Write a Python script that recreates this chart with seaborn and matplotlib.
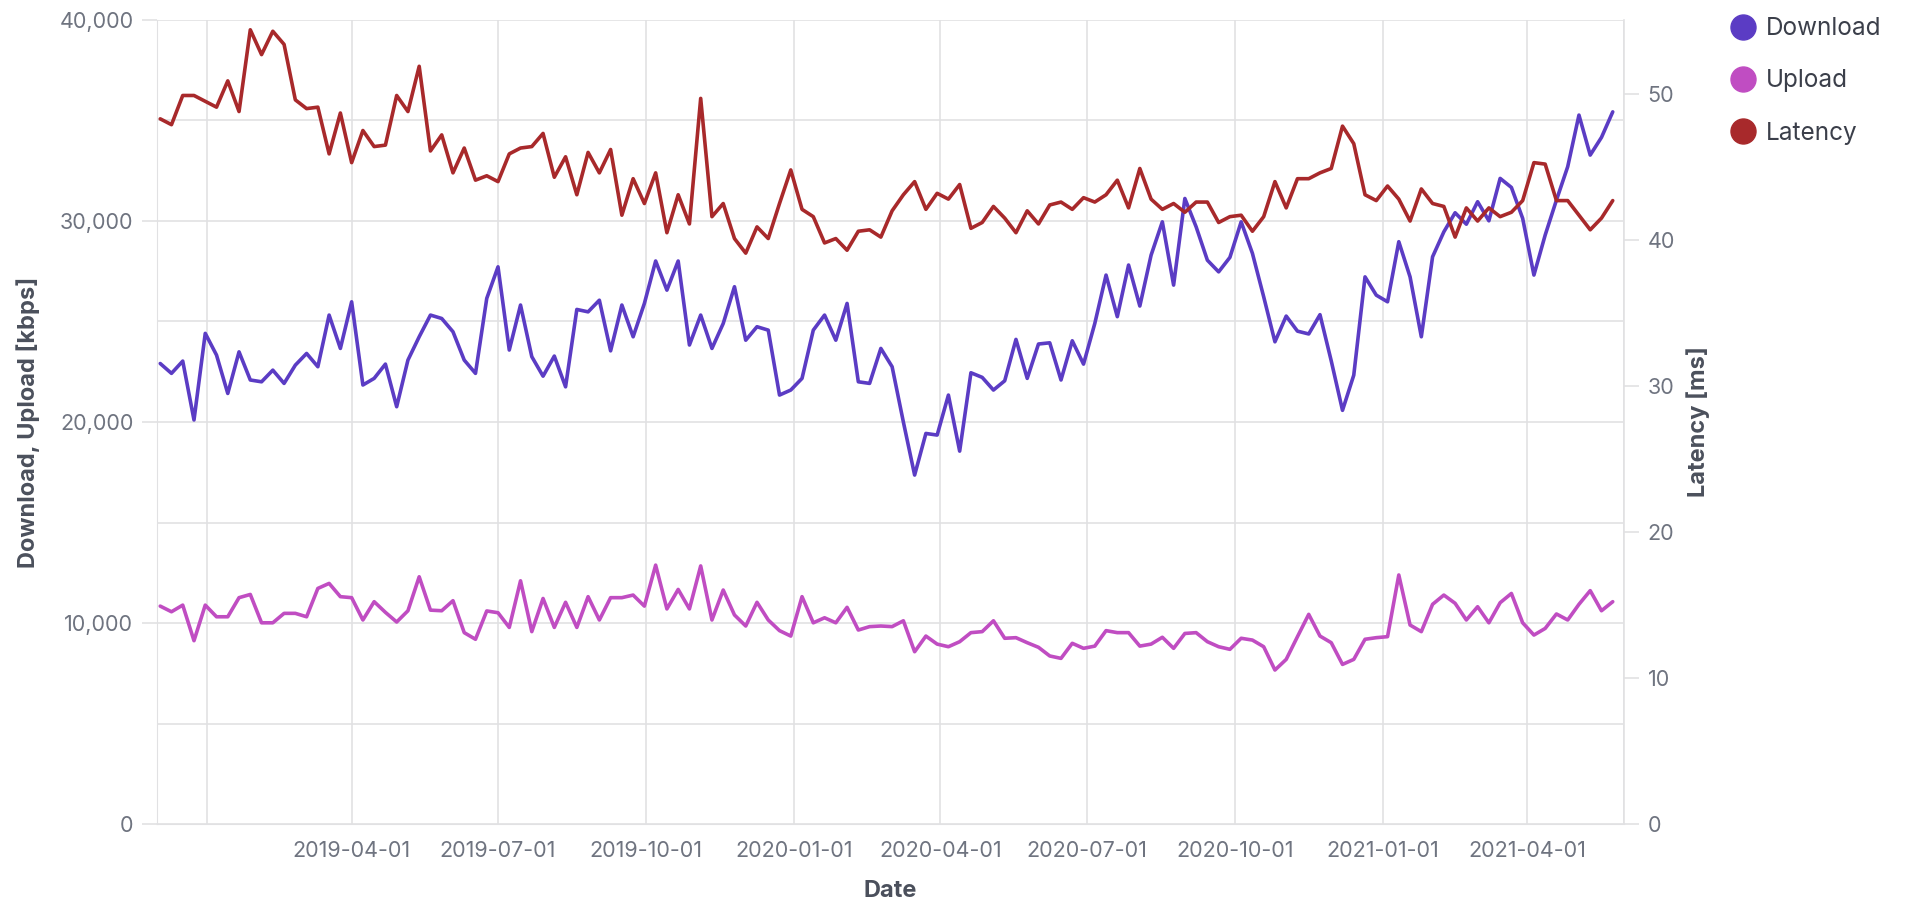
import pandas as pd
import matplotlib
matplotlib.use("Agg")
import matplotlib.pyplot as plt
import matplotlib.dates as mdates
from matplotlib.ticker import FuncFormatter, MultipleLocator
from matplotlib.lines import Line2D
import seaborn as sns

# weekly measurements, starting Monday 2018-12-03
start_date = "2018-12-03"
n_weeks = 130

download = [
    22910, 22420, 23030, 20100, 24410, 23330, 21420, 23490, 22090, 22000,
    22580, 21920, 22830, 23410, 22750, 25320, 23660, 25980, 21840, 22170,
    22880, 20760, 23080, 24240, 25320, 25150, 24490, 23080, 22420, 26150,
    27720, 23580, 25820, 23250, 22280, 23280, 21750, 25600, 25480, 26060,
    23540, 25820, 24240, 25900, 28010, 26560, 28010, 23830, 25320, 23660,
    24900, 26730, 24070, 24740, 24570, 21340, 21590, 22170, 24570, 25320,
    24070, 25900, 22000, 21920, 23660, 22750, 20000, 17360, 19430, 19350,
    21340, 18550, 22450, 22220, 21590, 22050, 24110, 22170, 23880, 23940,
    22090, 24040, 22880, 24900, 27310, 25240, 27810, 25770, 28300, 29960,
    26810, 31120, 29710, 28050, 27470, 28190, 29960, 28390, 26230, 23990,
    25270, 24520, 24380, 25340, 23040, 20580, 22330, 27220, 26310, 25980,
    28970, 27220, 24240, 28220, 29460, 30410, 29840, 30960, 30010, 32120,
    31670, 30130, 27310, 29300, 31040, 32700, 35270, 33280, 34160, 35430,
]

upload = [
    10840, 10560, 10890, 9120, 10890, 10310, 10310, 11260, 11420, 10010,
    10010, 10480, 10480, 10310, 11720, 11970, 11310, 11260, 10150, 11060,
    10530, 10050, 10610, 12300, 10640, 10610, 11110, 9520, 9190, 10600,
    10510, 9780, 12100, 9570, 11220, 9780, 11030, 9780, 11310, 10150,
    11260, 11260, 11390, 10840, 12880, 10700, 11670, 10700, 12840, 10150,
    11640, 10400, 9850, 11030, 10150, 9620, 9350, 11310, 10010, 10260,
    10010, 10780, 9650, 9820, 9850, 9820, 10110, 8570, 9350, 8950,
    8820, 9070, 9520, 9570, 10110, 9240, 9270, 9020, 8790, 8360,
    8240, 8990, 8740, 8850, 9620, 9520, 9520, 8850, 8950, 9290,
    8740, 9480, 9520, 9070, 8820, 8690, 9240, 9150, 8820, 7660,
    8190, 9320, 10430, 9350, 9020, 7940, 8190, 9190, 9270, 9320,
    12390, 9900, 9570, 10930, 11390, 10980, 10150, 10810, 10010, 11010,
    11470, 10010, 9400, 9730, 10450, 10150, 10930, 11610, 10610, 11060,
]

latency = [
    48.3, 47.9, 49.9, 49.9, 49.5, 49.1, 50.9, 48.8, 54.4, 52.7,
    54.3, 53.4, 49.6, 49.0, 49.1, 45.9, 48.7, 45.3, 47.5, 46.4,
    46.5, 49.9, 48.8, 51.9, 46.1, 47.2, 44.6, 46.3, 44.1, 44.4,
    44.0, 45.9, 46.3, 46.4, 47.3, 44.3, 45.7, 43.1, 46.0, 44.6,
    46.2, 41.7, 44.2, 42.5, 44.6, 40.5, 43.1, 41.1, 49.7, 41.6,
    42.5, 40.1, 39.1, 40.9, 40.1, 42.5, 44.8, 42.1, 41.6, 39.8,
    40.1, 39.3, 40.6, 40.7, 40.2, 42.0, 43.1, 44.0, 42.1, 43.2,
    42.8, 43.8, 40.8, 41.2, 42.3, 41.5, 40.5, 42.0, 41.1, 42.4,
    42.6, 42.1, 42.9, 42.6, 43.1, 44.1, 42.2, 44.9, 42.8, 42.1,
    42.5, 41.9, 42.6, 42.6, 41.2, 41.6, 41.7, 40.6, 41.6, 44.0,
    42.2, 44.2, 44.2, 44.6, 44.9, 47.8, 46.6, 43.1, 42.7, 43.7,
    42.8, 41.3, 43.5, 42.5, 42.3, 40.2, 42.2, 41.3, 42.2, 41.6,
    41.9, 42.7, 45.3, 45.2, 42.7, 42.7, 41.7, 40.7, 41.5, 42.7,
]

series_names = ["Download", "Upload", "Latency"]
colors = {"Download": "#5b3cc4", "Upload": "#c04dc2", "Latency": "#a8292b"}

tick_dates = ["2019-04-01", "2019-07-01", "2019-10-01", "2020-01-01",
              "2020-04-01", "2020-07-01", "2020-10-01", "2021-01-01", "2021-04-01"]
grid_dates = ["2019-01-01"]
x_start, x_end = "2018-12-01", "2021-05-31"

grid_col = "#e1e1e3"
tick_col = "#6f7480"
title_col = "#4b505c"

df = pd.DataFrame({
    "Date": pd.date_range(start_date, periods=n_weeks, freq="7D"),
    "Download": download,
    "Upload": upload,
    "Latency": latency,
})

sns.set_style("white")
plt.rcParams["font.family"] = ["Inter", "DejaVu Sans"]

fig = plt.figure(figsize=(19.10, 9.05), dpi=100)
ax = fig.add_axes([157 / 1910, 81 / 905, (1624 - 157) / 1910, (824 - 20) / 905])
ax2 = ax.twinx()

sns.lineplot(data=df, x="Date", y="Download", ax=ax, color=colors["Download"], linewidth=2.6)
sns.lineplot(data=df, x="Date", y="Upload", ax=ax, color=colors["Upload"], linewidth=2.6)
sns.lineplot(data=df, x="Date", y="Latency", ax=ax2, color=colors["Latency"], linewidth=2.6)

ax.set_xlim(pd.Timestamp(x_start), pd.Timestamp(x_end))
ax.set_ylim(0, 40000)
ax2.set_ylim(0, 55.07)

# left axis: labels every 10k, grid every 5k
ax.yaxis.set_major_locator(MultipleLocator(10000))
ax.yaxis.set_minor_locator(MultipleLocator(5000))
ax.yaxis.set_major_formatter(FuncFormatter(lambda v, p: f"{int(v):,}"))
ax2.yaxis.set_major_locator(MultipleLocator(10))

major_x = [pd.Timestamp(x_start)] + [pd.Timestamp(d) for d in tick_dates] + [pd.Timestamp(x_end)]
ax.set_xticks([mdates.date2num(d) for d in major_x])
ax.set_xticklabels([""] + tick_dates + [""])
ax.set_xticks([mdates.date2num(pd.Timestamp(d)) for d in grid_dates], minor=True)

ax.grid(True, which="both", color=grid_col, linewidth=1.2)
ax.set_axisbelow(True)
ax2.grid(False)

for a in (ax, ax2):
    for s in a.spines.values():
        s.set_visible(False)
ax.spines["left"].set_visible(True)
ax.spines["left"].set_color(grid_col)
ax.spines["bottom"].set_visible(True)
ax.spines["bottom"].set_color(grid_col)
ax2.spines["right"].set_visible(True)
ax2.spines["right"].set_color(grid_col)
ax2.spines["right"].set_linewidth(1.2)

ax.tick_params(axis="y", which="major", length=11, width=1.2, color=grid_col,
               labelcolor=tick_col, labelsize=15.5, pad=6)
ax.tick_params(axis="x", which="major", length=11, width=1.2, color=grid_col,
               labelcolor=tick_col, labelsize=15.5, pad=1)
ax.tick_params(axis="both", which="minor", length=0)
ax2.tick_params(axis="y", length=11, width=1.2, color=grid_col,
                labelcolor=tick_col, labelsize=15.5, pad=6)

ax.set_xlabel("Date", fontsize=17, fontweight="bold", color=title_col, labelpad=14)
ax.set_ylabel("Download, Upload [kbps]", fontsize=17, fontweight="bold", color=title_col, labelpad=14)
ax2.set_ylabel("Latency [ms]", fontsize=17, fontweight="bold", color=title_col, labelpad=8)

handles = [Line2D([0], [0], marker="o", linestyle="", markersize=18,
                  markerfacecolor=colors[n], markeredgecolor=colors[n]) for n in series_names]
fig.legend(handles, series_names, loc="upper left", bbox_to_anchor=(1714 / 1910, 0.997),
           frameon=False, fontsize=17.5, labelspacing=1.2, handletextpad=0.35,
           handlelength=1.2, labelcolor="#3b3f4a", borderaxespad=0.2)

fig.savefig("out.png", dpi=100)
